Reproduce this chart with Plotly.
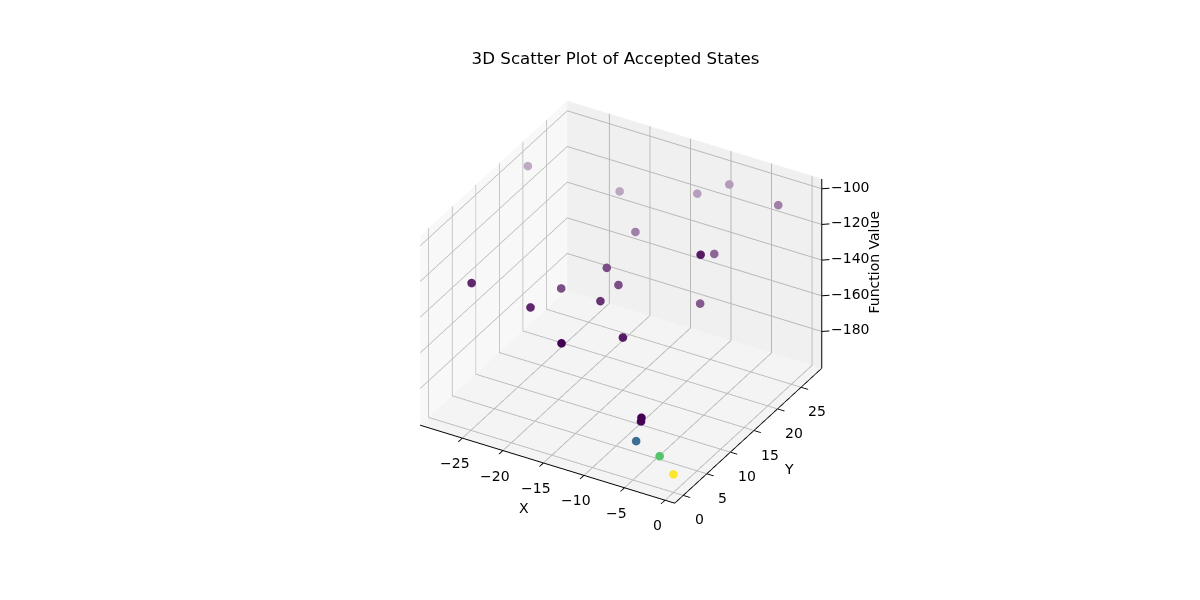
import re
import plotly.graph_objects as go
from plotly.colors import sample_colorscale

x_values = [-29.6,-20.2,-12.6,-9.7,-3.2,-15.7,-3.7,-6.5,-14.7,-13.2,-18.4,-13.1,-5.8,-24.8,-18.7,-12.9,-8.7,-3.5,-3.5,-4.1,-1.2,0.5]
y_values = [20.0,23.3,26.7,28.5,27.7,18.9,12.1,19.8,11.1,11.0,7.8,7.0,15.6,-0.2,1.8,-1.6,4.2,-0.8,-0.9,-0.9,-0.9,-0.9]
z_values = [-107.3,-116.4,-115.3,-110.5,-111.1,-122.2,-101.8,-123.9,-122.0,-129.3,-130.7,-128.5,-140.6,-117.2,-127.2,-131.0,-136.0,-161.6,-163.4,-175.3,-179.7,-187.5]
color_values = [0.0,0.0,0.0,0.0,0.0,0.0,0.0,0.0,0.0,0.0,0.0,0.0,0.0,0.0,0.0,0.0,0.0,0.0,0.01,0.33,0.72,1.0]
x_ticks = [-25, -20, -15, -10, -5, 0]
y_ticks = [0, 5, 10, 15, 20, 25]
z_ticks = [-100, -120, -140, -160, -180]

x_range = [-30.2, 1.2]
y_range = [-1.8, 29.4]
z_range = [-200.6, -94.4]
x_mid = sum(x_range) / 2
y_mid = sum(y_range) / 2
z_mid = sum(z_range) / 2

# matplotlib-style depth shading, worked out from each point's depth along the view
def depth(x, y, z):
    u = (x - x_range[0]) / (x_range[1] - x_range[0]) - 0.5
    v = (y - y_range[0]) / (y_range[1] - y_range[0]) - 0.5
    w = (z - z_range[0]) / (z_range[1] - z_range[0]) - 0.5
    return -0.433 * u + 0.75 * v - 0.375 * w

depths = [depth(*p) for p in zip(x_values, y_values, z_values)]
dmin, dmax = min(depths), max(depths)
alphas = [1 - 0.7 * (d - dmin) / (dmax - dmin) for d in depths]
rgb = sample_colorscale("Viridis", color_values)
def shade(c, a, bg=243):
    nums = [float(n) for n in re.findall(r"[\d.]+", c)[:3]]
    return "rgb({:.0f},{:.0f},{:.0f})".format(*[a * n + (1 - a) * bg for n in nums])
colors = [shade(c, a) for c, a in zip(rgb, alphas)]

def label(v):
    return str(v).replace("-", "\u2212")

def axis(rng, ticks, bg):
    return dict(
        title=dict(text=""),
        range=rng, tickmode="array", tickvals=ticks, autorange=False,
        showticklabels=False,
        showbackground=True, backgroundcolor=bg,
        gridcolor="#b8b8b8", gridwidth=2,
        showline=True, linecolor="black", linewidth=2,
        ticks="outside", ticklen=8, tickcolor="black", tickwidth=2,
        zeroline=False, showspikes=False,
    )

font = dict(family="DejaVu Sans", size=14, color="black")
annotations = [
    dict(x=x_mid, y=y_range[0], z=z_range[0], text="X", showarrow=False, xshift=-24, yshift=-44, font=font),
    dict(x=x_range[1], y=y_mid, z=z_range[0], text="Y", showarrow=False, xshift=41, yshift=-33, font=font),
    dict(x=x_range[1], y=y_range[1], z=z_mid, text="Function Value", showarrow=False, textangle=-90,
         xshift=53, yshift=11, font=font),
]
for t in x_ticks:
    annotations.append(dict(x=t, y=y_range[0], z=z_range[0], text=label(t), showarrow=False,
                            xshift=-8, yshift=-25, font=font))
for t in y_ticks:
    annotations.append(dict(x=x_range[1], y=t, z=z_range[0], text=label(t), showarrow=False,
                            xshift=16, yshift=-24, font=font))
for t in z_ticks:
    annotations.append(dict(x=x_range[1], y=y_range[1], z=t, text=label(t),
                            showarrow=True, arrowhead=0, arrowwidth=1, arrowcolor="black",
                            ax=28, ay=-2, font=font))

fig = go.Figure()
fig.add_trace(go.Scatter3d(
    x=[x_range[1], x_range[1]], y=[y_range[1], y_range[1]], z=z_range, mode="lines",
    line=dict(color="black", width=2), hoverinfo="skip",
))
fig.add_trace(go.Scatter3d(
    x=x_values, y=y_values, z=z_values, mode="markers",
    marker=dict(size=5, color=colors), hoverinfo="skip",
))
r = 2.42
zaxis = axis(z_range, z_ticks, "#f4f4f4")
zaxis.update(showline=False, ticks="")
fig.update_layout(
    width=1200, height=600, paper_bgcolor="white", showlegend=False,
    margin=dict(l=0, r=0, t=0, b=0),
    font=dict(family="DejaVu Sans", color="black"),
    title=dict(text="3D Scatter Plot of Accepted States", x=607.5/1200, xanchor="center",
               y=1-50/600, yanchor="middle", font=dict(family="DejaVu Sans", size=16.67, color="black")),
    scene=dict(
        domain=dict(x=[0.022, 1], y=[0.02, 1]),
        xaxis=axis(x_range, x_ticks, "#f8f8f8"),
        yaxis=axis(y_range, y_ticks, "#f0f0f0"),
        zaxis=zaxis,
        aspectmode="manual", aspectratio=dict(x=1, y=1, z=0.76),
        camera=dict(eye=dict(x=0.424*r, y=-0.734*r, z=0.53*r),
                    up=dict(x=0, y=0, z=1), center=dict(x=0, y=0, z=0),
                    projection=dict(type="orthographic")),
        annotations=annotations,
    ),
)
fig.write_html("out.html")
